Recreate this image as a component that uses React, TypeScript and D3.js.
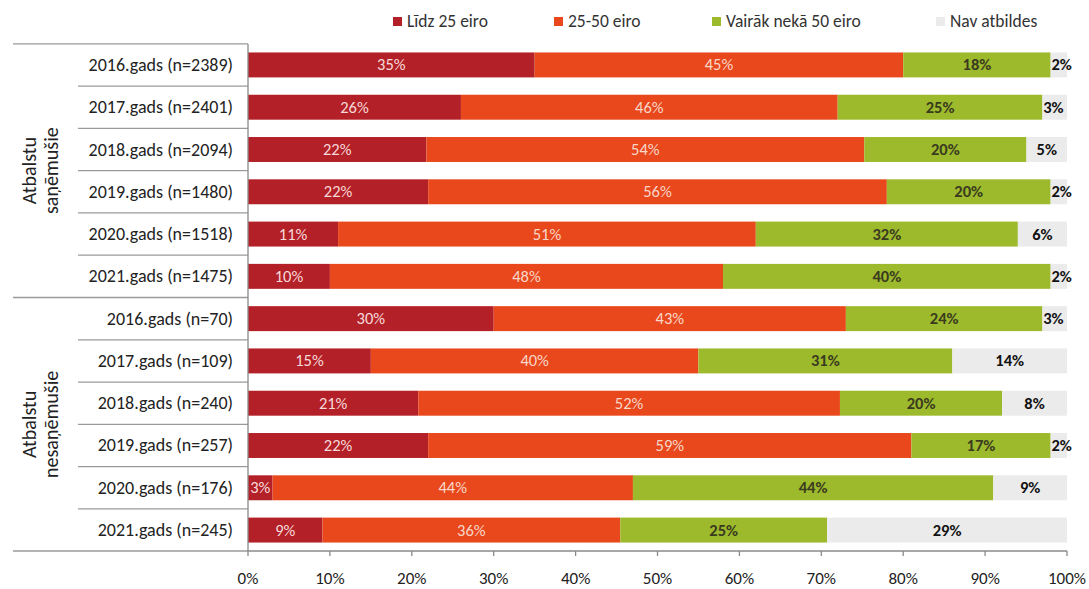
import React from "react";
import * as d3 from "d3";

const categories = [
  "2016.gads (n=2389)", "2017.gads (n=2401)", "2018.gads (n=2094)",
  "2019.gads (n=1480)", "2020.gads (n=1518)", "2021.gads (n=1475)",
  "2016.gads (n=70)", "2017.gads (n=109)", "2018.gads (n=240)",
  "2019.gads (n=257)", "2020.gads (n=176)", "2021.gads (n=245)",
];
const groups = [
  { lines: ["Atbalstu", "saņēmušie"], from: 0, to: 5 },
  { lines: ["Atbalstu", "nesaņēmušie"], from: 6, to: 11 },
];
const seriesNames = ["Līdz 25 eiro", "25-50 eiro", "Vairāk nekā 50 eiro", "Nav atbildes"];
const lidz25 = [35, 26, 22, 22, 11, 10, 30, 15, 21, 22, 3, 9];
const eiro25_50 = [45, 46, 54, 56, 51, 48, 43, 40, 52, 59, 44, 36];
const vairak50 = [18, 25, 20, 20, 32, 40, 24, 31, 20, 17, 44, 25];
const navAtbildes = [2, 3, 5, 2, 6, 2, 3, 14, 8, 2, 9, 29];
const xTicks = [0, 10, 20, 30, 40, 50, 60, 70, 80, 90, 100];

const colors = ["#b42027", "#e8481c", "#9dba2d", "#ebebeb"];
const labelColors = ["#f6dada", "#f8d6c8", "#3a3a1e", "#111"];
const labelWeights = [400, 400, 700, 700];
const FONT = "Carlito, Lato, 'Open Sans', sans-serif";

export default function App() {
  const W = 1089, H = 589;
  const x0 = 248, x1 = 1067;
  const x = d3.scaleLinear().domain([0, 100]).range([x0, x1]);
  const y = d3.scaleBand<number>().domain(d3.range(categories.length)).range([44, 551]).paddingInner(0.41).paddingOuter(0.2);
  const step = y.step();
  const series = [lidz25, eiro25_50, vairak50, navAtbildes];
  const rows = categories.map((c, i) => {
    const vals = series.map((s) => s[i]);
    const total = d3.sum(vals);
    let acc = 0;
    return vals.map((v, k) => {
      const start = (acc / total) * 100;
      acc += v;
      const end = (acc / total) * 100;
      return { k, v, start, end };
    });
  });
  const bandTop = (i: number) => (y(i) as number) - (step - y.bandwidth()) / 2;
  const legendX = [393, 554, 712, 936];
  return (
    <svg width={W} height={H} style={{ position: "absolute", left: 0, top: 0, fontFamily: FONT }}>
      <rect width={W} height={H} fill="#fff" />
      {/* legend */}
      {seriesNames.map((n, k) => (
        <g key={n}>
          <rect x={legendX[k]} y={17} width={9} height={9} fill={colors[k]} />
          <text x={legendX[k] + 14} y={27} fontSize={17.5} fill="#333">{n}</text>
        </g>
      ))}
      {/* table lines */}
      {d3.range(categories.length + 1).map((i) => {
        const yy = i === categories.length ? 551 : bandTop(i);
        const full = i === 0 || i === 6 || i === categories.length;
        return <line key={i} x1={full ? 13 : 78} x2={x0} y1={yy} y2={yy} stroke="#9a9a9a" strokeWidth={1.3} />;
      })}
      {/* group labels */}
      {groups.map((g) => {
        const cy = (bandTop(g.from) + bandTop(g.to) + step) / 2;
        return (
          <text key={g.lines[1]} transform={`translate(40,${cy}) rotate(-90)`} textAnchor="middle" fontSize={20} fill="#222">
            <tspan x={0} dy={-4}>{g.lines[0]}</tspan>
            <tspan x={0} dy={22}>{g.lines[1]}</tspan>
          </text>
        );
      })}
      {/* category labels */}
      {categories.map((c, i) => (
        <text key={c} x={233} y={(y(i) as number) + y.bandwidth() / 2 + 6} textAnchor="end" fontSize={18} fill="#222">{c}</text>
      ))}
      {/* bars */}
      {rows.map((segs, i) => (
        <g key={i}>
          {segs.map((s) => (
            <rect key={s.k} x={x(s.start)} y={y(i)} width={x(s.end) - x(s.start)} height={y.bandwidth()} fill={colors[s.k]} />
          ))}
          {segs.map((s) => {
            let cx = (x(s.start) + x(s.end)) / 2;
            if (s.k === 3 && s.v <= 3) cx = x(s.start) + 11;
            return (
              <text key={"t" + s.k} x={cx} y={(y(i) as number) + y.bandwidth() / 2 + 5.5} textAnchor="middle" fontSize={16.5}
                fontWeight={labelWeights[s.k]} fill={labelColors[s.k]}>{s.v}%</text>
            );
          })}
        </g>
      ))}
      {/* axes */}
      <line x1={x0} x2={x0} y1={44} y2={551} stroke="#8a8a8a" strokeWidth={1.3} />
      <line x1={x0} x2={x1} y1={551} y2={551} stroke="#8a8a8a" strokeWidth={1.3} />
      {xTicks.map((t) => (
        <g key={t}>
          <line x1={x(t)} x2={x(t)} y1={551} y2={556} stroke="#8a8a8a" strokeWidth={1.3} />
          <text x={x(t)} y={584} textAnchor="middle" fontSize={17} fill="#222">{t}%</text>
        </g>
      ))}
    </svg>
  );
}
